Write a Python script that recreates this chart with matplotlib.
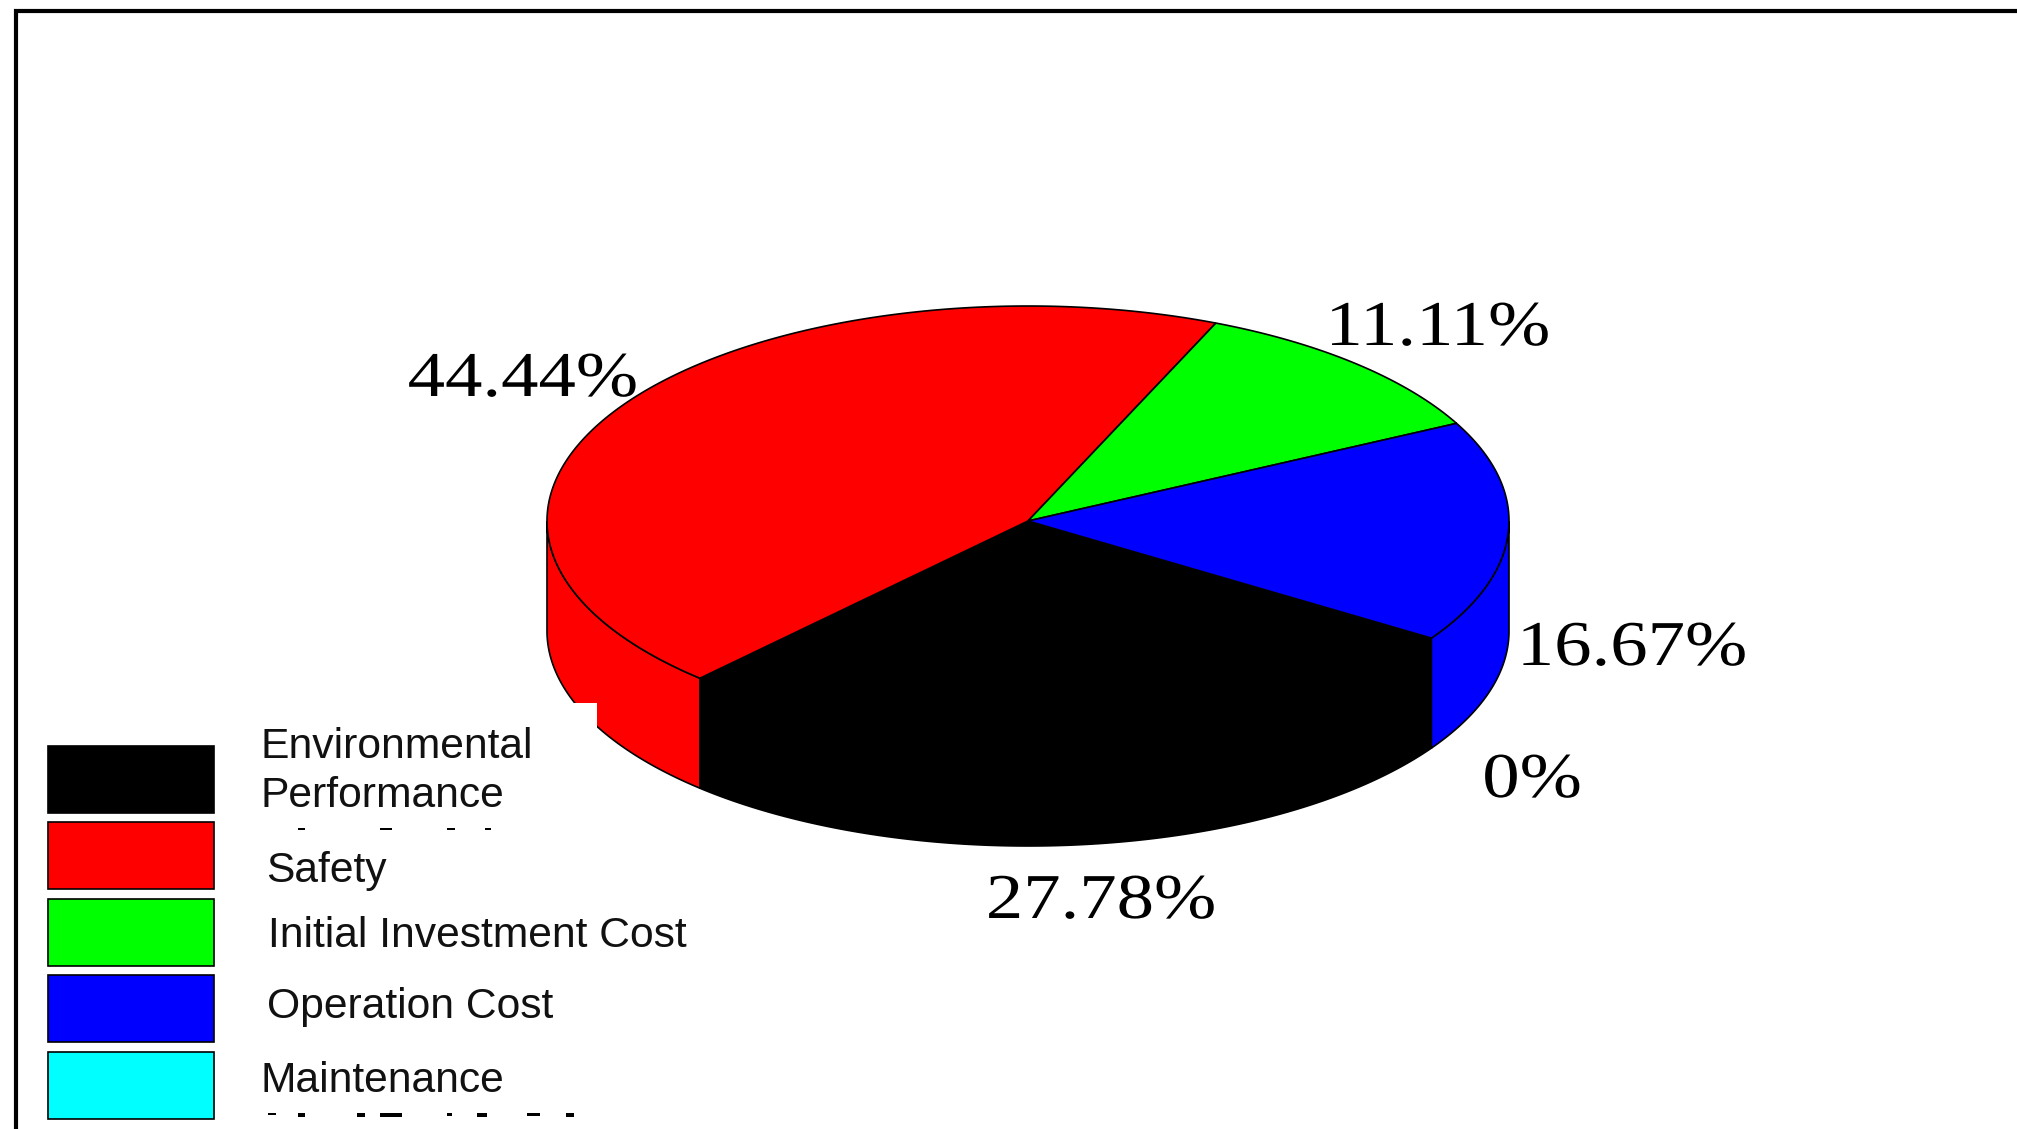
import numpy as np
import matplotlib
matplotlib.use('Agg')
import matplotlib.pyplot as plt
from matplotlib.patches import Polygon, Rectangle
from matplotlib.patheffects import AbstractPathEffect
from matplotlib.transforms import Affine2D

# shares in percent, clockwise from the start angle
names = ['Environmental\nPerformance', 'Safety', 'Initial Investment Cost', 'Operation Cost', 'Maintenance']
values = [27.78, 44.44, 11.11, 16.67, 0]
colors = ['#000000', '#ff0000', '#00ff00', '#0000ff', '#00ffff']

label_pos = [(1101, 918), (523, 396), (1438, 345), (1632, 665), (1532, 797)]
name_pos = [(260, 807), (266, 882), (268, 947), (267, 1018), (261, 1092)]
swatch_y = [746, 822, 899, 975, 1052]

cx, cy = 1028, 521
rx, ry = 481, 215
depth = 110
start = -33


class StretchX(AbstractPathEffect):
    # the source picture was stretched sideways, text keeps being real text
    def __init__(self, x0, sx):
        super().__init__()
        self.x0 = x0
        self.sx = sx

    def draw_path(self, renderer, gc, tpath, affine, rgbFace=None):
        st = affine + Affine2D().translate(-self.x0, 0).scale(self.sx, 1).translate(self.x0, 0)
        renderer.draw_path(gc, tpath, st, rgbFace)


def rim(a, b, dy=0):
    t = np.radians(np.linspace(a, b, 200))
    return np.column_stack([cx + rx * np.cos(t), cy - ry * np.sin(t) + dy])


fig = plt.figure(figsize=(20.17, 11.29), dpi=100)
ax = fig.add_axes([0, 0, 1, 1])
ax.set_xlim(0, 2017)
ax.set_ylim(1129, 0)
ax.axis('off')

# walls first, only the front half of the cylinder shows
a = start
for v, c in zip(values, colors):
    b = a - v * 3.6
    if v > 0:
        for lo, hi in [(-180, 0), (-540, -360)]:
            s, e = max(b, lo), min(a, hi)
            if s < e:
                top = rim(e, s)
                bot = rim(s, e, depth)
                ax.add_patch(Polygon(np.vstack([top, bot]), fc=c, ec='black', lw=1.2, zorder=2))
    a = b

# top face
a = start
for v, c in zip(values, colors):
    b = a - v * 3.6
    if v > 0:
        pts = np.vstack([[cx, cy], rim(a, b)])
        ax.add_patch(Polygon(pts, closed=True, fc=c, ec='black', lw=1.2, zorder=3))
    a = b

# frame, only top and left are inside the crop
ax.plot([16, 16, 2017], [1129, 11, 11], color='black', lw=3, solid_joinstyle='miter', zorder=5)

# white notch cut out of the red wall
ax.add_patch(Rectangle((572, 703), 25, 26, fc='white', ec='none', zorder=4))

for v, (x, y) in zip(values, label_pos):
    t = ax.text(x, y, f'{v:g}%', family='Liberation Serif', fontsize=46, ha='center', va='baseline',
                color='black', zorder=6)
    t.set_path_effects([StretchX(ax.transData.transform((x, y))[0], 1.17)])

for n, c, (x, y), sy in zip(names, colors, name_pos, swatch_y):
    ax.add_patch(Rectangle((48, sy), 166, 67, fc=c, ec='black', lw=1.2, zorder=4))
    ax.text(x, y, n, family='Liberation Sans', fontsize=30.7, ha='left', va='baseline', color='#111111',
            linespacing=1.28, zorder=6)

# leftovers of cut off text in the legend
for x0, x1, y0, y1 in [(298, 305, 828, 830), (380, 392, 828, 830), (447, 455, 828, 830), (485, 491, 828, 830),
                       (268, 276, 1113, 1115), (298, 305, 1113, 1117), (357, 365, 1113, 1117),
                       (380, 402, 1113, 1117), (447, 452, 1113, 1116), (477, 487, 1113, 1117),
                       (527, 540, 1113, 1116), (566, 574, 1113, 1117)]:
    ax.add_patch(Rectangle((x0, y0), x1 - x0, y1 - y0, fc='black', ec='none', zorder=6))

fig.savefig('out.png', dpi=100)
